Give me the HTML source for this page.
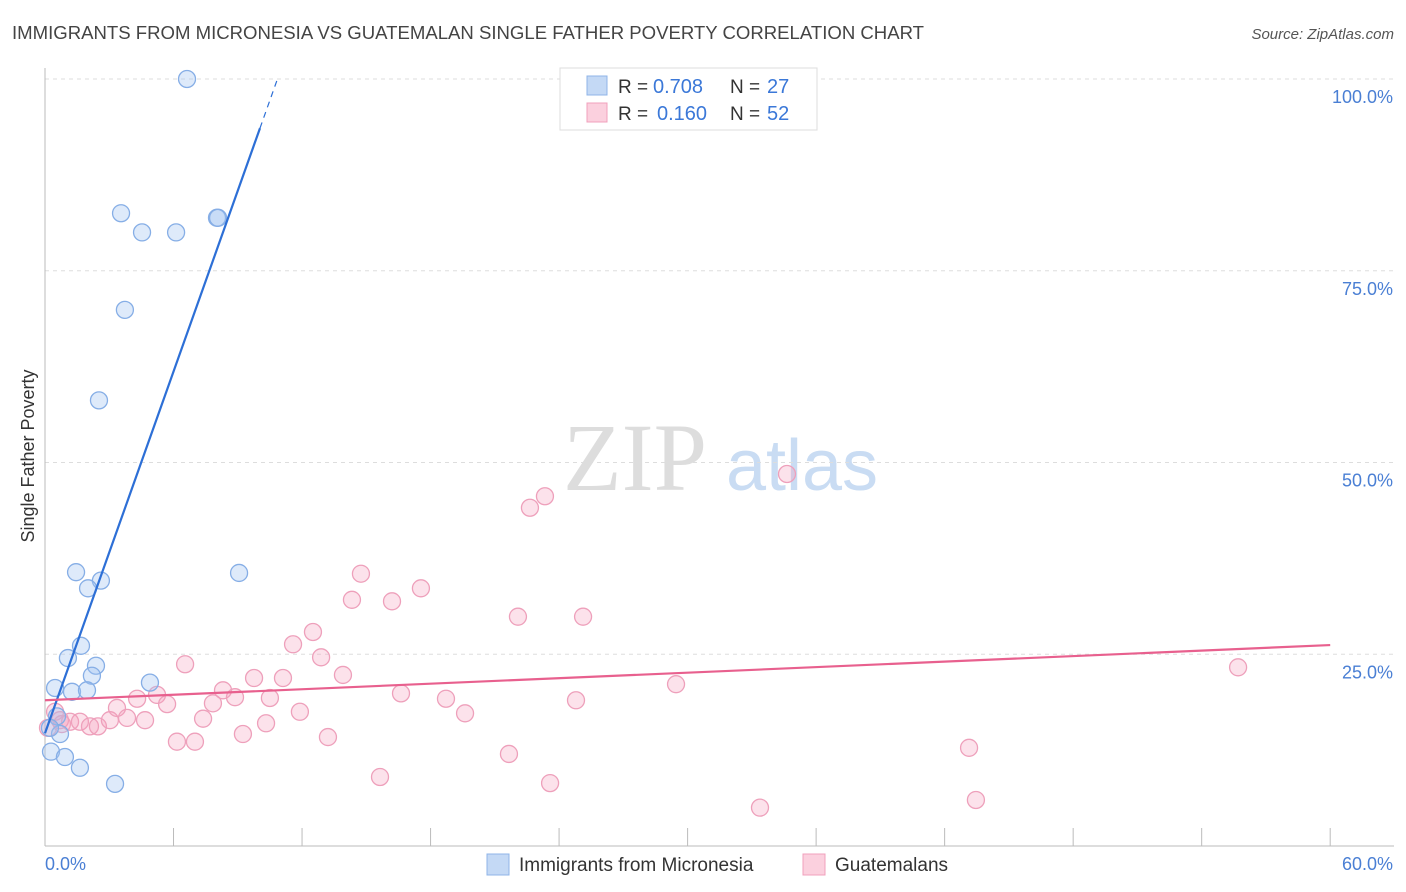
<!DOCTYPE html>
<html><head><meta charset="utf-8"><style>
body{margin:0;background:#fff;font-family:"Liberation Sans",sans-serif;}
svg{display:block}
</style></head><body>
<svg id="chart" width="1406" height="892">
<text x="12" y="39" font-size="18.4" fill="#444" textLength="912" lengthAdjust="spacingAndGlyphs">IMMIGRANTS FROM MICRONESIA VS GUATEMALAN SINGLE FATHER POVERTY CORRELATION CHART</text>
<text x="1394" y="39" font-size="15" fill="#555" font-style="italic" text-anchor="end">Source: ZipAtlas.com</text>
<text x="0" y="0" transform="translate(34,456) rotate(-90)" font-size="18" fill="#333" text-anchor="middle">Single Father Poverty</text>
<g><text x="635" y="490" font-size="96" font-family="Liberation Serif,serif" fill="#ddd" text-anchor="middle">ZIP</text><text x="802" y="490" font-size="72" fill="#c9dcf3" text-anchor="middle">atlas</text></g>
<g id="grid"></g><g id="axes"></g><g id="marks"></g>
<g>
<rect x="560" y="68" width="257" height="62" fill="#fff" stroke="#ddd"/>
<rect x="587" y="76" width="20" height="19" fill="#c4d9f5" stroke="#8fb4e8"/>
<rect x="587" y="103" width="20" height="19" fill="#fbd0de" stroke="#f0a0bc"/>
<text x="618" y="93" font-size="19" fill="#333">R =</text>
<text x="653" y="93" font-size="20" fill="#3b78d8">0.708</text>
<text x="730" y="93" font-size="19" fill="#333">N =</text>
<text x="767" y="93" font-size="20" fill="#3b78d8">27</text>
<text x="618" y="120" font-size="19" fill="#333">R =</text>
<text x="657" y="120" font-size="20" fill="#3b78d8">0.160</text>
<text x="730" y="120" font-size="19" fill="#333">N =</text>
<text x="767" y="120" font-size="20" fill="#3b78d8">52</text>
</g>
<g>
<rect x="487" y="854" width="22" height="21" fill="#c4d9f5" stroke="#8fb4e8"/>
<text x="519" y="871" font-size="19" fill="#333">Immigrants from Micronesia</text>
<rect x="803" y="854" width="22" height="21" fill="#fbd0de" stroke="#f0a0bc"/>
<text x="835" y="871" font-size="19" fill="#333">Guatemalans</text>
</g>
</svg>
<script>
const xTicks=[0,6,12,18,24,30,36,42,48,54,60];
const yTicks=[25,50,75,100];
const yTickLabels=["25.0%","50.0%","75.0%","100.0%"];
const blueX=[6.63,3.55,4.53,6.12,8.03,8.08,3.73,2.52,1.45,2.61,2.01,9.06,1.68,1.07,2.38,2.19,4.90,0.47,1.26,1.96,0.56,0.70,0.28,0.93,1.63,3.27,0.23];
const blueY=[100,82.5,80.0,80.0,81.9,81.9,69.9,58.1,35.7,34.6,33.6,35.6,26.1,24.5,23.5,22.2,21.3,20.6,20.1,20.3,16.9,14.6,12.3,11.6,10.2,8.1,15.4];
const pinkX=[0.14,0.47,0.70,0.79,1.17,1.63,2.10,2.47,3.03,3.36,3.83,4.30,4.67,5.23,5.70,6.16,6.54,7.00,7.38,7.84,8.31,8.87,9.24,9.76,10.32,10.50,11.11,11.58,11.90,12.51,12.89,13.21,13.91,14.33,14.75,15.64,16.20,16.62,17.55,18.72,19.61,21.66,22.08,22.64,23.34,23.58,24.79,25.12,29.46,33.38,34.64,43.14,43.46,55.70];
const pinkY=[15.4,17.5,16.4,15.9,16.2,16.2,15.6,15.6,16.4,18.0,16.7,19.2,16.4,19.7,18.5,13.6,23.7,13.6,16.6,18.6,20.3,19.4,14.6,21.9,16.0,19.3,21.9,26.3,17.5,27.9,24.6,14.2,22.3,32.1,35.5,9.0,31.9,19.9,33.6,19.2,17.3,12.0,29.9,44.1,45.6,8.2,19.0,29.9,21.1,5.0,48.5,12.8,6.0,23.3];
const blueTrend=[14.7,7.86];
const pinkTrend=[19.0,0.12];
const sx=v=>45+v*21.42, sy=v=>846-v*7.67;
const NS="http://www.w3.org/2000/svg";
function mk(p,t,a){const e=document.createElementNS(NS,t);for(const k in a)e.setAttribute(k,a[k]);document.getElementById(p).appendChild(e);return e;}
yTicks.forEach((t,i)=>{
 const g=mk('grid','line',{x1:45,x2:1394,y1:sy(t),y2:sy(t),stroke:'#ddd','stroke-dasharray':'4,4'});
 
 
 const l=mk('axes','text',{x:1393,y:sy(t)+24,'font-size':18,fill:'#4a7fd4','text-anchor':'end'});
 l.textContent=yTickLabels[i];
 
 
});
const a1=mk('axes','line',{x1:45,x2:45,y1:68,y2:846,stroke:'#bbb'});


const a2=mk('axes','line',{x1:45,x2:1394,y1:846,y2:846,stroke:'#bbb'});


xTicks.forEach(t=>{
 const k=mk('axes','line',{x1:sx(t),x2:sx(t),y1:828,y2:846,stroke:'#bbb'});
 
 
});
const xl0=mk('axes','text',{x:45,y:870,'font-size':18,fill:'#4a7fd4'});xl0.textContent=xTicks[0].toFixed(1)+'%';


const xl1=mk('axes','text',{x:1393,y:870,'font-size':18,fill:'#4a7fd4','text-anchor':'end'});xl1.textContent=xTicks[xTicks.length-1].toFixed(1)+'%';


pinkX.forEach((x,i)=>{
 const c=mk('marks','circle',{cx:sx(x),cy:sy(pinkY[i]),r:8.5,fill:'rgba(244,160,190,0.3)',stroke:'#eea0bb','stroke-width':1.3});
 
 
});
blueX.forEach((x,i)=>{
 const c=mk('marks','circle',{cx:sx(x),cy:sy(blueY[i]),r:8.5,fill:'rgba(160,195,240,0.35)',stroke:'#86aee6','stroke-width':1.3});
 
 
});
const xe=(93.6-blueTrend[0])/blueTrend[1], xd=(100-blueTrend[0])/blueTrend[1];
const bt=mk('marks','line',{x1:sx(0),y1:sy(blueTrend[0]),x2:sx(xe),y2:sy(blueTrend[0]+blueTrend[1]*xe),stroke:'#2d6fd6','stroke-width':2.2});


const bd=mk('marks','line',{x1:sx(xe),y1:sy(blueTrend[0]+blueTrend[1]*xe),x2:sx(xd),y2:sy(100),stroke:'#2d6fd6','stroke-width':1.2,'stroke-dasharray':'6,5'});


const pt=mk('marks','line',{x1:sx(0),y1:sy(pinkTrend[0]),x2:sx(60),y2:sy(pinkTrend[0]+pinkTrend[1]*60),stroke:'#e8608e','stroke-width':2.2});


</script>
</body></html>
